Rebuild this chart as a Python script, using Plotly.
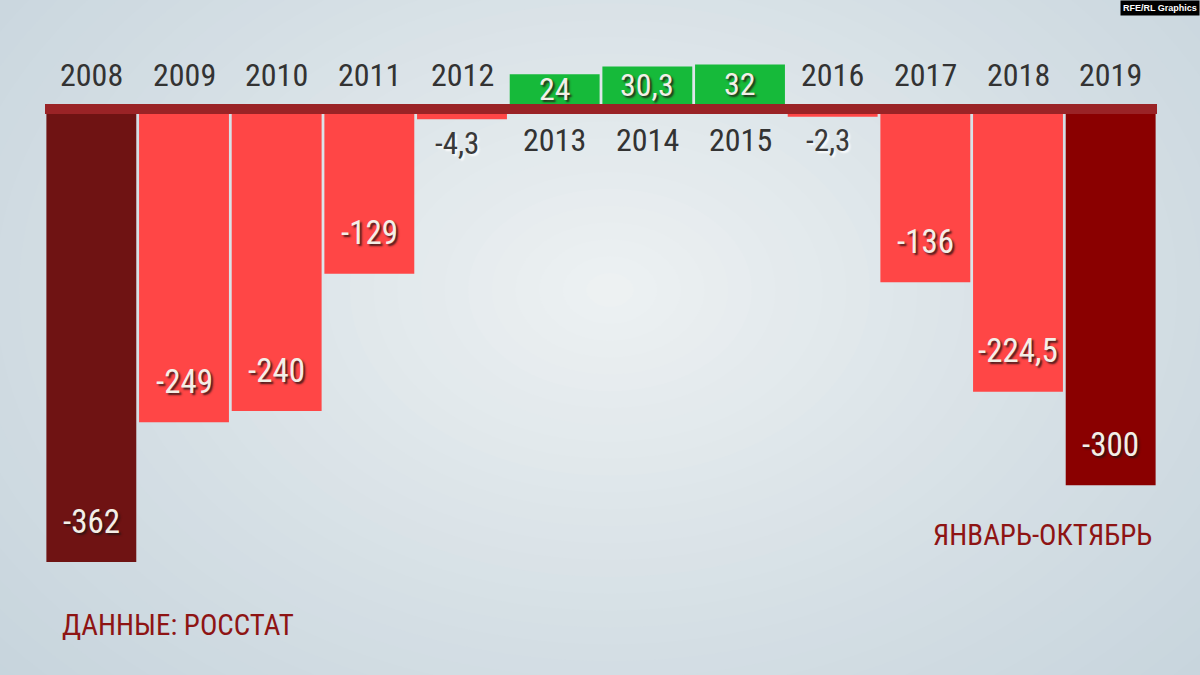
import plotly.graph_objects as go

years = ["2008", "2009", "2010", "2011", "2012", "2013", "2014", "2015", "2016", "2017", "2018", "2019"]
values = [-362, -249, -240, -129, -4.3, 24, 30.3, 32, -2.3, -136, -224.5, -300]
value_labels = ["-362", "-249", "-240", "-129", "-4,3", "24", "30,3", "32", "-2,3", "-136", "-224,5", "-300"]
source_text = "ДАННЫЕ: РОССТАТ"
note_text = "ЯНВАРЬ-ОКТЯБРЬ"
credit_text = "RFE/RL Graphics"

RED = "#ff4646"
DARK_2008 = "#6f1313"
DARK_2019 = "#8a0000"
GREEN = "#16ba3a"
BAND = "#9a2326"
TEXT_DARK = "#333333"
TEXT_LIGHT = "#f3efe7"
TITLE_RED = "#8e1414"
FONT = "Liberation Sans Narrow, Roboto Condensed, DejaVu Sans Condensed, Arial Narrow, sans-serif"

W, H = 1200, 675
L, R = 45, 43
PW = W - L - R
ZERO_TOP = 104   # px: bottom of positive bars
ZERO_BOT = 114   # px: top of negative bars
S = (562 - ZERO_BOT) / 362.0  # px per unit


def px_x(p):
    return (p - L) / PW


def px_y(p):
    return (H - p) / H


def bar_color(y, v):
    if v > 0:
        return GREEN
    if y == "2008":
        return DARK_2008
    if y == "2019":
        return DARK_2019
    return RED

idx = list(range(len(years)))
neg_vals = [v if v < 0 else None for v in values]
pos_vals = [v if v > 0 else None for v in values]
colors = [bar_color(y, v) for y, v in zip(years, values)]

fig = go.Figure()
fig.add_trace(go.Bar(x=years, y=neg_vals, marker=dict(color=colors, line=dict(width=0)),
                     xaxis="x", yaxis="y", hoverinfo="skip"))
fig.add_trace(go.Bar(x=years, y=pos_vals, marker=dict(color=colors, line=dict(width=0)),
                     xaxis="x", yaxis="y2", hoverinfo="skip"))

# background radial gradient approximation
shapes = []
edge = (196, 210, 219)
center = (238, 242, 243)
N = 40
for i in range(N):
    t = 1 - i / N
    f = (1 - t) ** 1.2
    c = tuple(int(round(edge[k] + (center[k] - edge[k]) * f)) for k in range(3))
    rx, ry = 0.85 * t, 1.0 * t
    cx, cy = px_x(610), px_y(290)
    shapes.append(dict(type="circle", xref="paper", yref="paper",
                       x0=cx - rx, x1=cx + rx, y0=cy - ry, y1=cy + ry,
                       fillcolor="rgb(%d,%d,%d)" % c, line=dict(width=0), layer="below"))
# zero band
shapes.append(dict(type="rect", xref="x domain", yref="paper", x0=0, x1=1,
                   y0=px_y(ZERO_BOT), y1=px_y(ZERO_TOP),
                   fillcolor=BAND, line=dict(width=0), layer="above"))

annotations = []
shadow_light = "2px 2px 2px rgba(40,20,20,0.85)"
shadow_dark = "2px 2px 2px rgba(255,255,255,0.9)"
for i, y, v, lab in zip(idx, years, values, value_labels):
    # year labels
    ypx = 75 if v < 0 else 140
    annotations.append(dict(x=i, xref="x", y=px_y(ypx), yref="paper", text=y,
                            showarrow=False, yanchor="middle",
                            font=dict(family=FONT, size=32, color=TEXT_DARK)))
    if v > 0:
        annotations.append(dict(x=i, xref="x", y=v / 2, yref="y2", text=lab, showarrow=False,
                                yanchor="middle",
                                font=dict(family=FONT, size=32, color=TEXT_LIGHT, shadow=shadow_light)))
    elif v > -10:
        annotations.append(dict(x=i, xref="x", y=v, yref="y", text=lab, showarrow=False,
                                yanchor="middle", yshift=-24, xshift=-5,
                                font=dict(family=FONT, size=31, color="#3a3a3a", shadow=shadow_dark)))
    else:
        annotations.append(dict(x=i, xref="x", y=v, yref="y", text=lab, showarrow=False,
                                yanchor="middle", yshift=41,
                                font=dict(family=FONT, size=33, color=TEXT_LIGHT, shadow=shadow_light)))

annotations.append(dict(x=px_x(60), xref="paper", y=px_y(625), yref="paper", text=source_text,
                        showarrow=False, xanchor="left", yanchor="middle",
                        font=dict(family=FONT, size=29, color=TITLE_RED)))
annotations.append(dict(x=px_x(1154), xref="paper", y=px_y(535), yref="paper", text=note_text,
                        showarrow=False, xanchor="right", yanchor="middle",
                        font=dict(family=FONT, size=29, color=TITLE_RED)))
annotations.append(dict(x=px_x(W), xref="paper", y=1, yref="paper", text="<b>" + credit_text + "</b>",
                        showarrow=False, xanchor="right", yanchor="top", bgcolor="#000000",
                        borderpad=2, font=dict(family="Liberation Sans, Arial, sans-serif", size=9, color="#ffffff")))

fig.update_layout(
    width=W, height=H,
    margin=dict(l=L, r=R, t=0, b=0, pad=0),
    paper_bgcolor="rgb(196,210,219)",
    plot_bgcolor="rgba(0,0,0,0)",
    showlegend=False,
    bargap=0.03,
    barmode="overlay",
    xaxis=dict(type="category", range=[-0.5, 11.5], visible=False, anchor="y", fixedrange=True),
    yaxis=dict(domain=[0, px_y(ZERO_BOT)], range=[-(H - ZERO_BOT) / S, 0],
               visible=False, fixedrange=True),
    yaxis2=dict(domain=[px_y(ZERO_TOP), 1], range=[0, ZERO_TOP / S],
                visible=False, fixedrange=True, anchor="x"),
    shapes=shapes,
    annotations=annotations,
)

fig.write_html("out.html", config={"displayModeBar": False},
               post_script="document.body.style.margin='0';document.body.style.padding='0';")
